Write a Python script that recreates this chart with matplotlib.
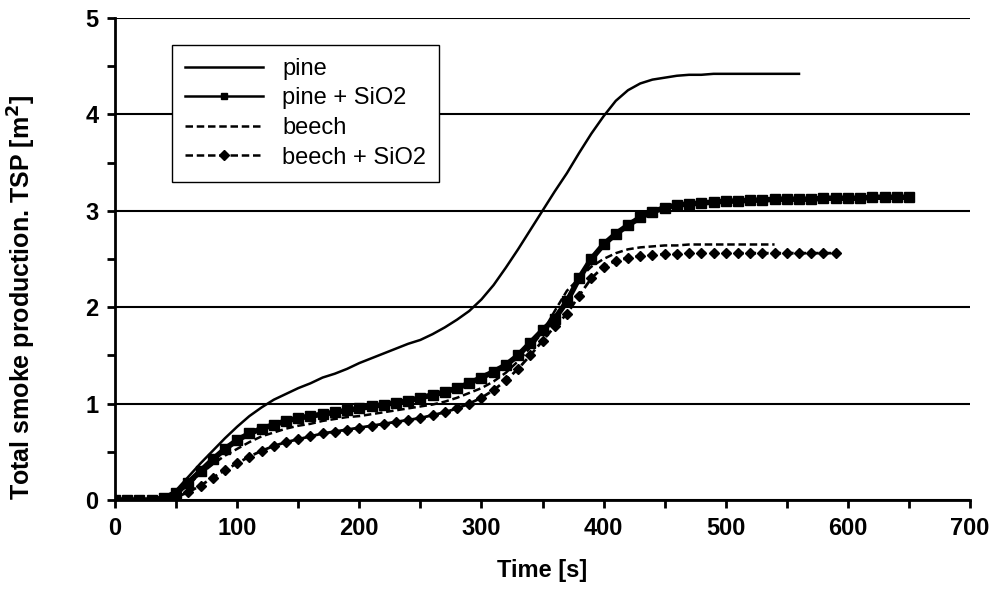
import numpy as np
import matplotlib
matplotlib.use("Agg")
import matplotlib.pyplot as plt
from matplotlib.ticker import MultipleLocator

plt.rcParams["font.family"] = ["Liberation Sans", "DejaVu Sans"]

# ── data (10 s steps) ────────────────────────────────────────
t_pine = np.arange(0, 561, 10)
pine = [0, 0, 0, 0.01, 0.03, 0.10, 0.24, 0.38, 0.51, 0.64,
        0.76, 0.87, 0.96, 1.04, 1.10, 1.16, 1.21, 1.27, 1.31, 1.36,
        1.42, 1.47, 1.52, 1.57, 1.62, 1.66, 1.72, 1.79, 1.87, 1.96,
        2.08, 2.23, 2.41, 2.60, 2.80, 3.00, 3.20, 3.39, 3.60, 3.80,
        3.98, 4.14, 4.25, 4.32, 4.36, 4.38, 4.40, 4.41, 4.41, 4.42,
        4.42, 4.42, 4.42, 4.42, 4.42, 4.42, 4.42]

t_pine_si = np.arange(0, 651, 10)
pine_si = [0, 0, 0, 0, 0.02, 0.07, 0.18, 0.30, 0.42, 0.53,
           0.62, 0.69, 0.74, 0.78, 0.82, 0.85, 0.87, 0.89, 0.91, 0.93,
           0.95, 0.97, 0.99, 1.01, 1.03, 1.06, 1.09, 1.12, 1.16, 1.21,
           1.27, 1.33, 1.40, 1.50, 1.63, 1.76, 1.88, 2.06, 2.30, 2.50,
           2.65, 2.76, 2.85, 2.93, 2.99, 3.03, 3.06, 3.07, 3.08, 3.09,
           3.10, 3.10, 3.11, 3.11, 3.12, 3.12, 3.12, 3.12, 3.13, 3.13,
           3.13, 3.13, 3.14, 3.14, 3.14, 3.14]

t_beech = np.arange(0, 541, 10)
beech = [0, 0, 0, 0, 0.02, 0.07, 0.16, 0.27, 0.37, 0.46,
         0.53, 0.60, 0.66, 0.70, 0.74, 0.77, 0.79, 0.82, 0.84, 0.86,
         0.87, 0.89, 0.91, 0.93, 0.95, 0.97, 0.99, 1.02, 1.06, 1.11,
         1.16, 1.23, 1.32, 1.44, 1.58, 1.74, 1.96, 2.17, 2.30, 2.42,
         2.50, 2.56, 2.60, 2.62, 2.63, 2.64, 2.64, 2.65, 2.65, 2.65,
         2.65, 2.65, 2.65, 2.65, 2.65]

t_beech_si = np.arange(0, 591, 10)
beech_si = [0, 0, 0, 0, 0, 0.03, 0.08, 0.15, 0.23, 0.31,
            0.38, 0.45, 0.51, 0.56, 0.60, 0.63, 0.66, 0.69, 0.71, 0.73,
            0.75, 0.77, 0.79, 0.81, 0.83, 0.85, 0.88, 0.91, 0.95, 1.00,
            1.06, 1.14, 1.24, 1.36, 1.50, 1.65, 1.80, 1.93, 2.12, 2.30,
            2.42, 2.48, 2.51, 2.53, 2.54, 2.55, 2.55, 2.56, 2.56, 2.56,
            2.56, 2.56, 2.56, 2.56, 2.56, 2.56, 2.56, 2.56, 2.56, 2.56]

fig = plt.figure(figsize=(10, 5.97), dpi=100)
ax = fig.add_axes([0.115, 0.1625, 0.855, 0.8075])

ax.plot(t_pine, pine, color="black", lw=1.8, label="pine")
ax.plot(t_pine_si, pine_si, color="black", lw=4, marker="s", ms=7,
        label="pine + SiO2")
ax.plot(t_beech, beech, color="black", lw=1.8, ls=(0, (3, 1.5)), label="beech")
ax.plot(t_beech_si, beech_si, color="black", lw=2, ls=(0, (3, 1.5)),
        marker="D", ms=5, label="beech + SiO2")

ax.set_xlim(0, 700)
ax.set_ylim(0, 5)
ax.xaxis.set_major_locator(MultipleLocator(100))
ax.xaxis.set_minor_locator(MultipleLocator(50))
ax.yaxis.set_major_locator(MultipleLocator(1))
ax.yaxis.set_minor_locator(MultipleLocator(0.5))
ax.tick_params(which="both", direction="out", length=6, width=2,
               labelsize=17, pad=6)
for lab in ax.get_xticklabels() + ax.get_yticklabels():
    lab.set_fontweight("bold")

ax.grid(axis="y", color="black", lw=1.5)
ax.set_axisbelow(True)
for s in ["top", "right"]:
    ax.spines[s].set_visible(False)
for s in ["left", "bottom"]:
    ax.spines[s].set_linewidth(2)

ax.set_xlabel("Time [s]", fontsize=17, fontweight="bold", labelpad=14)
ax.set_ylabel("Total smoke production. TSP [m$^\\mathbf{2}$]", fontsize=18,
              fontweight="bold", va="center")
ax.yaxis.set_label_coords(-0.109, 0.42)

leg = ax.legend(loc="upper left", bbox_to_anchor=(0.067, 0.944),
                borderaxespad=0, fontsize=17, handlelength=3.3,
                labelspacing=0.32, fancybox=False, framealpha=1,
                edgecolor="black", borderpad=0.55)
leg.get_frame().set_linewidth(1.0)
for h in leg.get_lines():
    h.set_markersize(5)
    h.set_linewidth(1.8)

fig.savefig("out.png", dpi=100)
